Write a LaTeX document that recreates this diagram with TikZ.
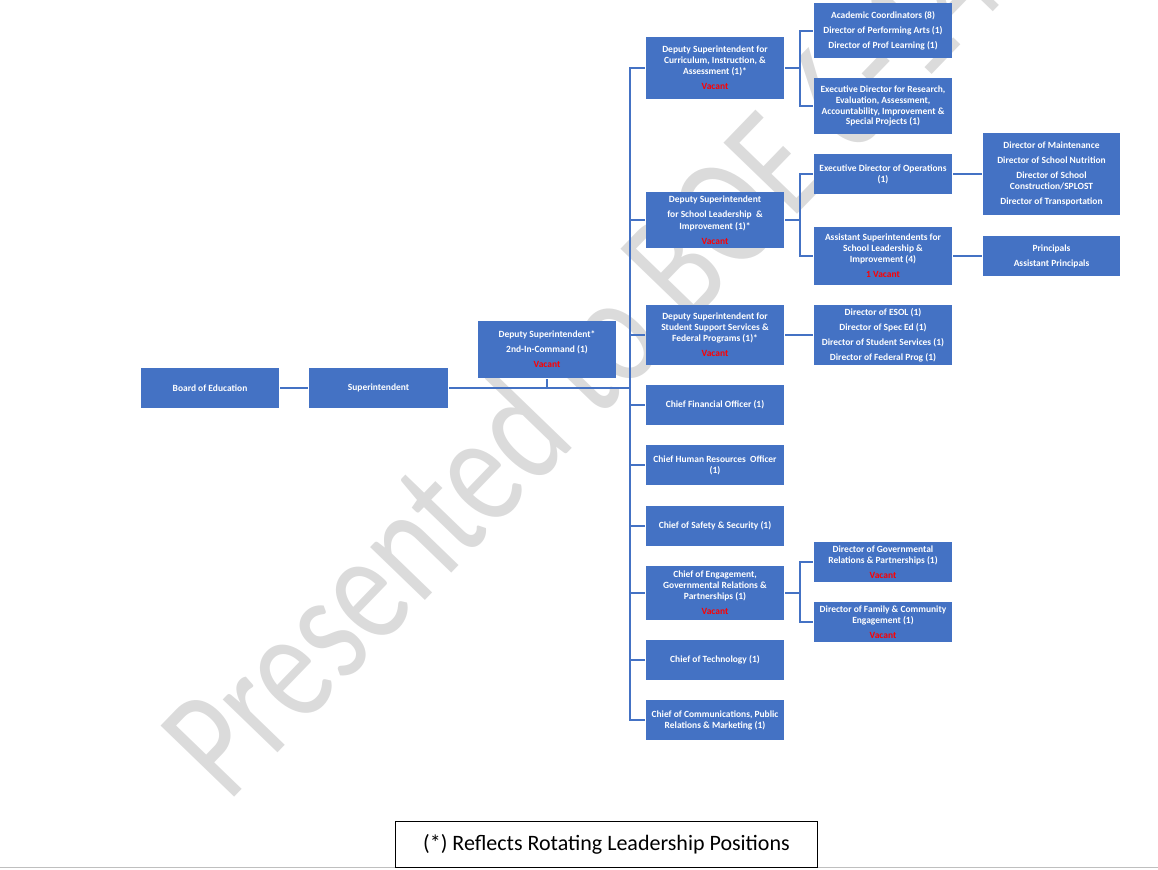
\documentclass[tikz,border=0pt]{standalone}
\usepackage{fontspec}
\setmainfont{Carlito}
\usepackage{tikz}
\usetikzlibrary{positioning,calc}
\definecolor{OrgBlue}{RGB}{68,114,196}
\definecolor{LinkBlue}{RGB}{68,114,196}
\definecolor{VacRed}{RGB}{255,0,0}
\definecolor{MarkGray}{RGB}{219,219,219}
\newcommand{\vac}[1]{\\[3pt]\textcolor{VacRed}{#1}}
\tikzset{
	box/.style={fill=OrgBlue,text=white,align=center,inner sep=1pt,outer sep=1pt,
		minimum width=103.5pt,minimum height=30pt,font=\fontsize{7.1}{8.2}\selectfont\bfseries},
	link/.style={draw=LinkBlue,line width=1.5pt},
	note/.style={draw=black,line width=0.6pt,minimum width=317pt,minimum height=34pt,
		font=\fontsize{16.5}{18}\selectfont},
	wmark/.style={text=MarkGray,inner sep=0pt,font=\fontsize{92}{92}\selectfont},
}

\begin{document}
\begin{tikzpicture}[x=0.75pt,y=-0.75pt]
	\useasboundingbox (0,0) rectangle (1158,869);
	% watermark
	\begin{scope}
		\clip (0,0) rectangle (1158,869);
		\begin{scope}[shift={(228,804)}]
			\node[wmark,anchor=base west,rotate=46,yscale=1.3] (wm) at (0,0) {Presented to BOE 6-14-21};
		\end{scope}
	\end{scope}
	% top of the chart
	\node[box] (board) at (210,388) {Board of Education};
	\node[box,minimum width=104pt] (supt) at (378.5,388) {Superintendent};
	\node[box,minimum height=42.75pt] (dep) at (547,349.5) {Deputy Superintendent*\\[3pt]2nd-In-Command (1)\vac{Vacant}};
	% second level
	\node[box,minimum height=46.5pt] (cia) at (715,68) {Deputy Superintendent for\\Curriculum, Instruction, \&\\Assessment (1)*\vac{Vacant}};
	\node[box,minimum height=42pt] (sli) at (715,220) {Deputy Superintendent\\[3pt]for School Leadership \ \&\\[1pt]Improvement (1)*\vac{Vacant}};
	\node[box,minimum height=45pt] (sss) at (715,335) {Deputy Superintendent for\\Student Support Services \&\\Federal Programs (1)*\vac{Vacant}};
	\node[box] (cfo) at (715,405) {Chief Financial Officer (1)};
	\node[box] (chro) at (715,465) {Chief Human Resources \ Officer\\(1)};
	\node[box] (safety) at (715,526) {Chief of Safety \& Security (1)};
	\node[box,minimum height=40.5pt] (engage) at (715,593) {Chief of Engagement,\\Governmental Relations \&\\Partnerships (1)\vac{Vacant}};
	\node[box] (tech) at (715,660) {Chief of Technology (1)};
	\node[box] (comms) at (715,720) {Chief of Communications, Public\\Relations \& Marketing (1)};
	% third level
	\node[box,minimum height=41.25pt] (acad) at (883,30.5) {Academic Coordinators (8)\\[3pt]Director of Performing Arts (1)\\[3pt]Director of Prof Learning (1)};
	\node[box,minimum height=42pt] (research) at (883,106) {Executive Director for Research,\\Evaluation, Assessment,\\Accountability, Improvement \&\\Special Projects (1)};
	\node[box] (ops) at (883,174) {Executive Director of Operations\\(1)};
	\node[box,minimum height=43.5pt] (asst) at (883,256) {Assistant Superintendents for\\School Leadership \&\\Improvement (4)\vac{1 Vacant}};
	\node[box,minimum height=45pt] (esol) at (883,335) {Director of ESOL (1)\\[3pt]Director of Spec Ed (1)\\[3pt]Director of Student Services (1)\\[3pt]Director of Federal Prog (1)};
	\node[box] (gov) at (883,562) {Director of Governmental\\Relations \& Partnerships (1)\vac{Vacant}};
	\node[box] (family) at (883,622) {Director of Family \& Community\\Engagement (1)\vac{Vacant}};
	% fourth level
	\node[box,minimum width=102.75pt,minimum height=61.5pt] (maint) at (1051.5,174) {Director of Maintenance\\[3pt]Director of School Nutrition\\[3pt]Director of School\\Construction/SPLOST\\[3pt]Director of Transportation};
	\node[box,minimum width=102.75pt] (princ) at (1051.5,256) {Principals\\[3pt]Assistant Principals};
	% connectors
	\coordinate (spine) at (630,388);
	\draw[link] (board) -- (supt);
	\draw[link] (supt) -- (spine);
	\draw[link] (dep) -- (dep |- supt.east);
	\foreach \n in {cia,sli,sss,cfo,chro,safety,engage,tech,comms}
	\draw[link] (spine) |- (\n.west);
	\foreach \a/\b in {cia/acad,cia/research,sli/ops,sli/asst,sss/esol,engage/gov,engage/family}
	\draw[link] (\a.east) -- ++(15,0) |- (\b.west);
	\foreach \a/\b in {ops/maint,asst/princ}
	\draw[link] (\a) -- (\b);
	% footnote
	\draw[black!25] (0,867.5) -- (1158,867.5);
	\node[note] (foot) at (606.5,844.5) {(*) Reflects Rotating Leadership Positions};
\end{tikzpicture}
\end{document}
